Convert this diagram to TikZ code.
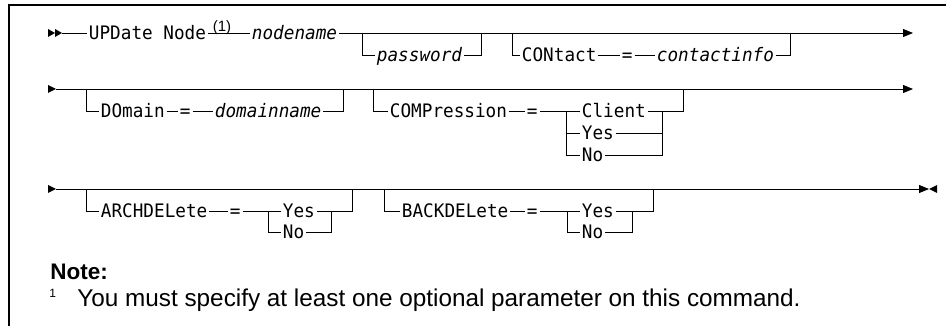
\documentclass[tikz,border=0pt]{standalone}
\usepackage{fontspec}
\newfontfamily\railfont[FakeStretch=0.95]{DejaVu Sans Mono}
\newfontfamily\notefont{Liberation Sans}
\usetikzlibrary{arrows.meta}

\tikzset{
  kw/.style={font=\railfont\fontsize{18.6}{20}\selectfont, text height=13pt, text depth=0pt,
    inner xsep=1.5pt, inner ysep=0pt, anchor=west},
  var/.style={kw, font=\railfont\itshape\fontsize{18.6}{20}\selectfont},
  fnref/.style={font=\notefont\fontsize{15}{16}\selectfont, inner sep=0pt, anchor=base},
  railend/.style={-{Triangle[length=10pt,width=8pt]}},
}

\begin{document}
\begin{tikzpicture}[x=1pt,y=-1pt,line width=0.9pt]
  \useasboundingbox (0,0) rectangle (946,326);
  % cornice
  \draw[line width=1.5pt] (9,326) -- (9,5) -- (946,5);

  % riga 1
  \fill (48,29) -- (55,33) -- (48,37) -- cycle;
  \fill (55,29) -- (62,33) -- (55,37) -- cycle;
  \coordinate (s1) at (62,33);
  \coordinate (e1) at (913,33);
  \coordinate (pwA) at (362,33); \coordinate (pwB) at (481,33);
  \coordinate (ctA) at (512,33); \coordinate (ctB) at (790,33);
  \node[kw] (upd) at (87,33) {UPDate Node};
  \node[fnref] (fn1) at (222,32) {(1)};
  \node[var] (nn) at (250,33) {nodename};
  \node[var] (pw) at (375,55) {password};
  \node[kw] (ct) at (520,55) {CONtact};
  \node[kw] (eq1) at (620,55) {=};
  \node[var] (ci) at (655,55) {contactinfo};
  \draw (s1) -- (upd.west);
  \draw (upd.east) -- (nn.west);
  \draw[railend] (nn.east) -- (e1);
  \draw (pwA) |- (pw.west);
  \draw (pw.east) -| (pwB);
  \draw (ctA) |- (ct.west);
  \draw (ct.east) -- (eq1.west);
  \draw (eq1.east) -- (ci.west);
  \draw (ci.east) -| (ctB);

  % riga 2
  \fill (48,85) -- (56,89) -- (48,93) -- cycle;
  \coordinate (s2) at (56,89);
  \coordinate (e2) at (913,89);
  \coordinate (dmA) at (86,89); \coordinate (dmB) at (343,89);
  \coordinate (cpA) at (373,89); \coordinate (cpB) at (683,89);
  \coordinate (cpL) at (566,111); \coordinate (cpR) at (662,111);
  \node[kw] (dm) at (99,111) {DOmain};
  \node[kw] (eq2) at (178,111) {=};
  \node[var] (dn) at (213,111) {domainname};
  \node[kw] (cp) at (388,111) {COMPression};
  \node[kw] (eq3) at (525,111) {=};
  \node[kw] (cl) at (580,111) {Client};
  \node[kw] (ys1) at (580,133) {Yes};
  \node[kw] (no1) at (580,155) {No};
  \draw[railend] (s2) -- (e2);
  \draw (dmA) |- (dm.west);
  \draw (dm.east) -- (eq2.west);
  \draw (eq2.east) -- (dn.west);
  \draw (dn.east) -| (dmB);
  \draw (cpA) |- (cp.west);
  \draw (cp.east) -- (eq3.west);
  \draw (eq3.east) -- (cl.west);
  \draw (cl.east) -| (cpB);
  \draw (cpL) |- (ys1.west);
  \draw (cpL) |- (no1.west);
  \draw (ys1.east) -- (ys1.east -| cpR);
  \draw (no1.east) -| (cpR);

  % riga 3
  \fill (48,185) -- (56,189) -- (48,193) -- cycle;
  \coordinate (s3) at (56,189);
  \coordinate (e3) at (929,189);
  \coordinate (adA) at (86,189); \coordinate (adB) at (352,189);
  \coordinate (adL) at (268,211); \coordinate (adR) at (331,211);
  \coordinate (bdA) at (384,189); \coordinate (bdB) at (653,189);
  \coordinate (bdL) at (567,211); \coordinate (bdR) at (632,211);
  \node[kw] (ad) at (99,211) {ARCHDELete};
  \node[kw] (eq4) at (228,211) {=};
  \node[kw] (ys2) at (281,211) {Yes};
  \node[kw] (no2) at (281,232) {No};
  \node[kw] (bd) at (400,211) {BACKDELete};
  \node[kw] (eq5) at (525,211) {=};
  \node[kw] (ys3) at (580,211) {Yes};
  \node[kw] (no3) at (580,232) {No};
  \draw[railend] (s3) -- (e3);
  \fill (937,185) -- (929,189) -- (937,193) -- cycle;
  \draw (adA) |- (ad.west);
  \draw (ad.east) -- (eq4.west);
  \draw (eq4.east) -- (ys2.west);
  \draw (ys2.east) -| (adB);
  \draw (adL) |- (no2.west);
  \draw (no2.east) -| (adR);
  \draw (bdA) |- (bd.west);
  \draw (bd.east) -- (eq5.west);
  \draw (eq5.east) -- (ys3.west);
  \draw (ys3.east) -| (bdB);
  \draw (bdL) |- (no3.west);
  \draw (no3.east) -| (bdR);

  % nota
  \node[anchor=base west, inner sep=0pt, font=\notefont\bfseries\fontsize{22.5}{26}\selectfont]
    (note) at (50,279) {Note:};
  \node[anchor=base west, inner sep=0pt, font=\notefont\fontsize{12}{13}\selectfont]
    (fnum) at (49,298) {1};
  \node[anchor=base west, inner sep=0pt, font=\notefont\fontsize{24.3}{28}\selectfont]
    (fntext) at (77,306) {You must specify at least one optional parameter on this command.};
\end{tikzpicture}
\end{document}
